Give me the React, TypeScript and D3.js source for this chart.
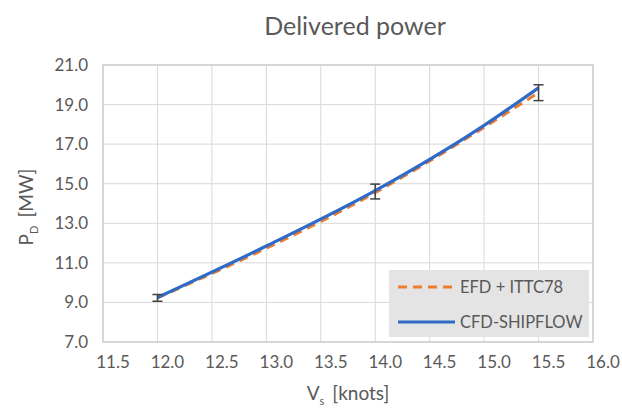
import React from "react";
import * as d3 from "d3";

const xTicks = [11.5, 12.0, 12.5, 13.0, 13.5, 14.0, 14.5, 15.0, 15.5, 16.0];
const yTicks = [7, 9, 11, 13, 15, 17, 19, 21];

// EFD + ITTC78 (with uncertainty)
const efdSpeed = [12.0, 14.0, 15.5];
const efdPower = [9.23, 14.55, 19.6];
const efdErrLow = [9.06, 14.23, 19.2];
const efdErrHigh = [9.4, 14.98, 20.0];

// CFD-SHIPFLOW
const cfdSpeed = [12.0, 13.0, 14.0, 15.0, 15.5];
const cfdPower = [9.25, 11.85, 14.65, 17.95, 19.85];

const W = 622;
const H = 410;
const m = { left: 103, right: 29, top: 65, bottom: 68 };
const FONT = "Lato, 'Open Sans', sans-serif";
const TXT = "#595959";

export default function App() {
  const x = d3.scaleLinear().domain([11.5, 16]).range([m.left, W - m.right]);
  const y = d3.scaleLinear().domain([7, 21]).range([H - m.bottom, m.top]);

  const line = d3
    .line<[number, number]>()
    .x((d) => x(d[0]))
    .y((d) => y(d[1]))
    .curve(d3.curveMonotoneX);

  const efd = efdSpeed.map((s, i) => [s, efdPower[i]] as [number, number]);
  const cfd = cfdSpeed.map((s, i) => [s, cfdPower[i]] as [number, number]);

  const lx = 389, ly = 270, lw = 200, lh = 67;

  return (
    <svg width={W} height={H} style={{ position: "absolute", left: 0, top: 0 }}>
      <rect width={W} height={H} fill="#fff" />
      <text x={355} y={35} textAnchor="middle" fontFamily={FONT} fontSize={25} fill={TXT}>
        Delivered power
      </text>

      {/* grid */}
      {xTicks.map((t) => (
        <line key={"gx" + t} x1={x(t)} x2={x(t)} y1={y(7)} y2={y(21)} stroke="#d9d9d9" strokeWidth={1} />
      ))}
      {yTicks.map((t) => (
        <line key={"gy" + t} x1={x(11.5)} x2={x(16)} y1={y(t)} y2={y(t)} stroke="#d9d9d9" strokeWidth={1} />
      ))}
      <rect x={x(11.5)} y={y(21)} width={x(16) - x(11.5)} height={y(7) - y(21)} fill="none" stroke="#bfbfbf" strokeWidth={1} />

      {/* tick labels */}
      {yTicks.map((t) => (
        <text key={"ty" + t} x={88} y={y(t) + 6} textAnchor="end" fontFamily={FONT} fontSize={17} fill={TXT}>
          {d3.format(".1f")(t)}
        </text>
      ))}
      {xTicks.map((t) => (
        <text key={"tx" + t} x={x(t) + 10} y={368} textAnchor="middle" fontFamily={FONT} fontSize={17} fill={TXT}>
          {d3.format(".1f")(t)}
        </text>
      ))}

      {/* axis titles */}
      <text x={348} y={400} textAnchor="middle" fontFamily={FONT} fontSize={19} fill={TXT}>
        V<tspan fontSize={11} dy={5}>s</tspan>
        <tspan dy={-5} dx={8}>[knots]</tspan>
      </text>
      <text transform="translate(33,207) rotate(-90)" textAnchor="middle" fontFamily={FONT} fontSize={19} fill={TXT}>
        P<tspan fontSize={11} dy={5}>D</tspan>
        <tspan dy={-5} dx={8}>[MW]</tspan>
      </text>

      {/* series */}
      <path d={line(efd) || ""} fill="none" stroke="#ED7D31" strokeWidth={3} strokeDasharray="9,6" />
      <path d={line(cfd) || ""} fill="none" stroke="#2F6BC6" strokeWidth={3.2} />

      {/* error bars */}
      {efdSpeed.map((s, i) => (
        <g key={"e" + s} stroke="#404040" strokeWidth={1.5}>
          <line x1={x(s)} x2={x(s)} y1={y(efdErrLow[i])} y2={y(efdErrHigh[i])} />
          <line x1={x(s) - 5} x2={x(s) + 5} y1={y(efdErrLow[i])} y2={y(efdErrLow[i])} />
          <line x1={x(s) - 5} x2={x(s) + 5} y1={y(efdErrHigh[i])} y2={y(efdErrHigh[i])} />
        </g>
      ))}

      {/* legend */}
      <rect x={lx} y={ly} width={lw} height={lh} fill="#e4e4e4" />
      <line x1={lx + 9} x2={lx + 66} y1={ly + 17} y2={ly + 17} stroke="#ED7D31" strokeWidth={3} strokeDasharray="9,6" />
      <text x={lx + 71} y={ly + 23} fontFamily={FONT} fontSize={16.5} fill={TXT}>EFD + ITTC78</text>
      <line x1={lx + 9} x2={lx + 66} y1={ly + 52} y2={ly + 52} stroke="#2F6BC6" strokeWidth={3.2} />
      <text x={lx + 71} y={ly + 58} fontFamily={FONT} fontSize={16.5} fill={TXT}>CFD-SHIPFLOW</text>
    </svg>
  );
}
